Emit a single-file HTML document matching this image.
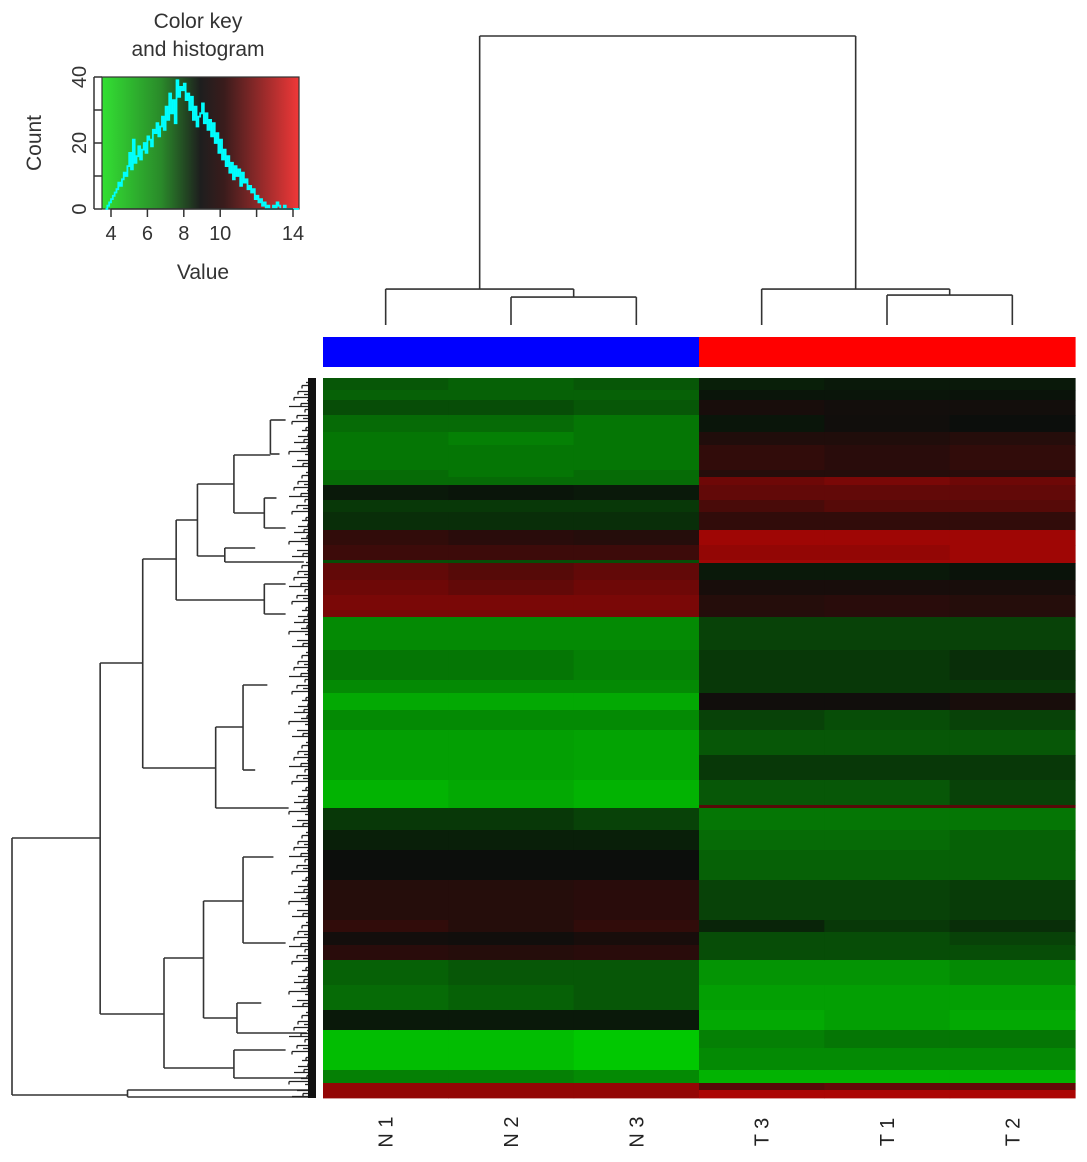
<!DOCTYPE html>
<html><head><meta charset="utf-8">
<style>
html,body{margin:0;padding:0;background:#fff;}
svg{display:block;font-family:"Liberation Sans",sans-serif;}
</style></head>
<body>
<svg id="fig" width="1087" height="1162" viewBox="0 0 1087 1162" xmlns="http://www.w3.org/2000/svg">
<defs>
<linearGradient id="keygrad" x1="0" x2="1" y1="0" y2="0">
<stop offset="0" stop-color="#33e033"/>
<stop offset="0.3" stop-color="#2a8a2a"/>
<stop offset="0.5" stop-color="#1e1e1e"/>
<stop offset="0.62" stop-color="#3a1c1c"/>
<stop offset="1" stop-color="#f03838"/>
</linearGradient>
</defs>
<g id="key"></g>
<g id="topdend"></g>
<g id="sidebar"></g>
<g id="heat"></g>
<g id="leftdend"></g>
<g id="collabels"></g>
</svg>
<script>
// ---- data ----
var sampleLabels = ["N 1","N 2","N 3","T 3","T 1","T 2"];
var sampleGroups = ["N","N","N","T","T","T"];
var blockStarts = [0,12,22,37,54,67,92,99,107,122,134,152,167,182,185,202,217,239,272,302,315,332,352,377,402,427,430,452,472,502,542,554,567,582,607,632,652,670,692,705,712];
var colN1 = [-0.35,-0.4,-0.3,-0.45,-0.5,-0.5,-0.45,-0.45,-0.05,-0.2,-0.15,0.15,0.2,-0.3,0.35,0.4,0.45,-0.6,-0.5,-0.6,-0.75,-0.6,-0.7,-0.7,-0.8,-0.8,-0.2,-0.08,0.0,0.1,0.15,0.03,0.12,-0.4,-0.45,-0.05,-0.85,-0.85,-0.55,0.55,0.55];
var colN2 = [-0.4,-0.4,-0.3,-0.45,-0.55,-0.5,-0.5,-0.45,-0.03,-0.2,-0.15,0.12,0.2,-0.3,0.3,0.35,0.45,-0.6,-0.5,-0.6,-0.75,-0.6,-0.7,-0.7,-0.75,-0.75,-0.2,-0.08,0.0,0.1,0.1,0.02,0.1,-0.35,-0.4,-0.05,-0.85,-0.85,-0.55,0.55,0.55];
var colN3 = [-0.35,-0.4,-0.35,-0.5,-0.5,-0.5,-0.45,-0.45,-0.05,-0.2,-0.15,0.1,0.2,-0.3,0.35,0.4,0.45,-0.6,-0.55,-0.6,-0.75,-0.6,-0.72,-0.72,-0.8,-0.8,-0.25,-0.08,0.0,0.12,0.15,0.05,0.12,-0.35,-0.35,-0.05,-0.9,-0.9,-0.6,0.55,0.55];
var colT3 = [-0.08,-0.03,0.05,-0.03,0.08,0.15,0.1,0.4,0.35,0.25,0.15,0.6,0.55,0.6,-0.05,0.05,0.1,-0.25,-0.2,-0.2,0.02,-0.25,-0.35,-0.2,-0.35,0.3,-0.5,-0.45,-0.4,-0.25,-0.1,-0.3,-0.3,-0.65,-0.7,-0.75,-0.55,-0.6,-0.8,0.3,0.65];
var colT1 = [-0.05,-0.03,0.03,0.02,0.08,0.12,0.1,0.45,0.35,0.3,0.15,0.6,0.55,0.6,-0.05,0.05,0.12,-0.25,-0.2,-0.2,0.02,-0.3,-0.35,-0.2,-0.35,0.3,-0.5,-0.45,-0.4,-0.25,-0.2,-0.3,-0.3,-0.65,-0.7,-0.7,-0.5,-0.6,-0.8,0.35,0.65];
var colT2 = [-0.05,-0.02,0.03,0.0,0.1,0.15,0.12,0.4,0.35,0.3,0.15,0.6,0.6,0.6,-0.02,0.05,0.1,-0.25,-0.15,-0.2,0.05,-0.25,-0.35,-0.2,-0.25,0.3,-0.5,-0.4,-0.4,-0.22,-0.15,-0.25,-0.3,-0.6,-0.7,-0.75,-0.5,-0.6,-0.8,0.35,0.65];
var rowTotal = 720;
var histStart = 3.7, histWidth = 0.1;
var histCounts = [0,1,2,3,4,5,6,8,7,9,11,10,13,17,12,21,14,16,19,15,18,20,17,22,21,19,24,23,26,22,25,28,24,31,27,35,29,33,26,39,34,37,36,38,33,35,30,34,27,31,25,28,29,32,26,29,24,27,22,26,20,23,17,21,15,18,13,16,11,14,9,13,10,12,7,11,8,9,6,7,5,6,3,4,2,3,1,2,0,1,0,0,1,0,2,1,0,0,1,0,0,0,0,0,0,0,0,0,0,0,0,0,0,0,0,0,0,0,0,0,0,0,0,0,0,0,0,0,0,0,3];
var xTicks = [4,6,8,10,12,14];
var xTickLabels = ["4","6","8","10","","14"];
var yTicks = [0,10,20,30,40];
var yTickLabels = ["0","","20","","40"];
// column dendrogram heights: root, left pair, left inner, right pair, right inner
var colMergeHeights = [0.86, 0.107, 0.083, 0.107, 0.089];
var rowLinks = [
 [1.0, 460, 717, 0.71, 0.62],
 [0.71, 285, 636, 0.57, 0.5],
 [0.57, 181, 390, 0.46, 0.33],
 [0.46, 142, 222, 0.39, 0.17],
 [0.39, 106, 178, 0.27, 0.3],
 [0.27, 77, 135, 0.15, 0.17],
 [0.15, 42, 76, 0.1, 0.12],
 [0.17, 120, 150, 0.13, 0.1],
 [0.3, 170, 184, 0.2, 0.04],
 [0.17, 206, 236, 0.1, 0.1],
 [0.33, 349, 430, 0.24, 0.09],
 [0.24, 307, 392, 0.16, 0.2],
 [0.5, 580, 690, 0.37, 0.27],
 [0.37, 523, 640, 0.24, 0.26],
 [0.24, 479, 565, 0.14, 0.1],
 [0.26, 625, 655, 0.18, 0.03],
 [0.27, 672, 700, 0.1, 0.03],
 [0.62, 712, 719, 0.02, 0.02]
];
// ---- helpers ----
var NS = "http://www.w3.org/2000/svg";
function mk(tag, parent, attrs){var e=document.createElementNS(NS,tag);for(var k in attrs)e.setAttribute(k,attrs[k]);parent.appendChild(e);return e;}
var HX0=323, HX1=1075, HY0=378, HY1=1098;
var colW=(HX1-HX0)/6;
function rowY(r){return HY0+r*(HY1-HY0)/rowTotal;}
function colX(i){return HX0+i*colW;}
function colorFor(v){
  var r,g,b;
  if(v<0){var a=-v;r=Math.round(10*(1-a));g=Math.round(15+205*a);b=Math.round(10*(1-a));}
  else{r=Math.round(12+245*v);g=Math.round(14*(1-v));b=Math.round(12*(1-v));}
  return "rgb("+Math.min(255,r)+","+Math.min(255,g)+","+Math.min(255,b)+")";
}
// ---- heatmap ----
var heat=document.getElementById("heat");
var cols=[colN1,colN2,colN3,colT3,colT1,colT2];
for(var c=0;c<6;c++){
  for(var b=0;b<blockStarts.length;b++){
    var r0=blockStarts[b], r1=(b+1<blockStarts.length)?blockStarts[b+1]:rowTotal;
    var rect=mk("rect",heat,{x:colX(c).toFixed(2),y:rowY(r0).toFixed(2),width:(colW+0.6).toFixed(2),height:(rowY(r1)-rowY(r0)+0.4).toFixed(2),fill:colorFor(cols[c][b])});
    
    
  }
}
// ---- group bar ----
var sb=document.getElementById("sidebar");
for(var c=0;c<6;c++){
  var sr=mk("rect",sb,{x:colX(c),y:337,width:colW+0.6,height:30,fill:sampleGroups[c]==="N"?"#0000ff":"#ff0000"});
  
  
}
// ---- column labels ----
var cl=document.getElementById("collabels");
for(var c=0;c<6;c++){
  var cx=colX(c)+colW/2;
  var t=mk("text",cl,{x:0,y:0,transform:"translate("+(cx+7)+",1132) rotate(-90)","text-anchor":"middle","font-size":"20",fill:"#222"});
  t.textContent=sampleLabels[c];
  
  
}
// ---- top dendrogram ----
var td=document.getElementById("topdend");
function topY(h){return 325-(h/0.86)*(325-36);}
function line(p,x1,y1,x2,y2){var l=mk("line",p,{x1:x1,y1:y1,x2:x2,y2:y2,stroke:"#333","stroke-width":"1.6"});return l;}
function center(i){return colX(i)+colW/2;}
var yRoot=topY(colMergeHeights[0]), yL=topY(colMergeHeights[1]), yLi=topY(colMergeHeights[2]), yR=topY(colMergeHeights[3]), yRi=topY(colMergeHeights[4]), yLeaf=topY(0);
var xLi=(center(1)+center(2))/2, xL=(center(0)+xLi)/2;
var xRi=(center(4)+center(5))/2, xR=(center(3)+xRi)/2;
line(td,xL,yRoot,xR,yRoot);line(td,xL,yRoot,xL,yL);line(td,xR,yRoot,xR,yR);
line(td,center(0),yL,xLi,yL);line(td,center(0),yL,center(0),yLeaf);line(td,xLi,yL,xLi,yLi);
line(td,center(1),yLi,center(2),yLi);line(td,center(1),yLi,center(1),yLeaf);line(td,center(2),yLi,center(2),yLeaf);
line(td,center(3),yR,xRi,yR);line(td,center(3),yR,center(3),yLeaf);line(td,xRi,yR,xRi,yRi);
line(td,center(4),yRi,center(5),yRi);line(td,center(4),yRi,center(4),yLeaf);line(td,center(5),yRi,center(5),yLeaf);
// ---- left dendrogram ----
var ld=document.getElementById("leftdend");
var LX0=12, LX1=316;
function hX(h){return LX1-h*(LX1-LX0);}
rowLinks.forEach(function(k){
  var xp=hX(k[0]), ya=rowY(k[1]), yb=rowY(k[2]);
  line(ld,xp,ya,xp,yb);
  line(ld,xp,ya,hX(k[3]),ya);
  line(ld,xp,yb,hX(k[4]),yb);
});
for(var i=0;i<240;i++){
  var yy=rowY(i*3+1.5);
  var depth=[6,10,14,8,18,12,22,9,15,27,11,7,19,13,24][i%15];
  var l=mk("line",ld,{x1:LX1-depth,y1:yy,x2:LX1,y2:yy,stroke:"#222","stroke-width":"1.3"});
  
  
  if(i%2===0){var v=mk("line",ld,{x1:LX1-depth,y1:yy,x2:LX1-depth,y2:rowY(i*3+4.5),stroke:"#222","stroke-width":"1.3"});
  
  }
}
var fr=mk("rect",ld,{x:LX1-8,y:HY0,width:8,height:HY1-HY0,fill:"#111"});


// ---- color key ----
var key=document.getElementById("key");
var KX0=102,KX1=299,KY0=77,KY1=209;
function kx(v){return 111+(v-4)*(293-111)/10;}
function ky(c){return 209-c*(209-77)/40;}
var bg=mk("rect",key,{x:KX0,y:KY0,width:KX1-KX0,height:KY1-KY0,fill:"url(#keygrad)",stroke:"#333","stroke-width":"1.2"});


var d="";
for(var i=0;i<histCounts.length;i++){
  var x0=kx(histStart+i*histWidth), x1=kx(histStart+(i+1)*histWidth);
  if(x0>=KX1)break; if(x1>KX1)x1=KX1;
  var y=ky(histCounts[i]);
  d+=(i===0?"M"+x0+","+y:"L"+x0+","+y)+" L"+x1+","+y+" ";
}
var hp=mk("path",key,{d:d,fill:"none",stroke:"#00ffff","stroke-width":"1.8"});


xTicks.forEach(function(v,i){
  var x=kx(v);
  var tl=mk("line",key,{x1:x,y1:KY1,x2:x,y2:KY1+8,stroke:"#333","stroke-width":"1.5"});
  
  if(xTickLabels[i]){var t=mk("text",key,{x:x,y:KY1+31,"text-anchor":"middle","font-size":"20",fill:"#333"});t.textContent=xTickLabels[i];
  }
});
yTicks.forEach(function(v,i){
  var y=ky(v);
  var tl=mk("line",key,{x1:KX0-8,y1:y,x2:KX0,y2:y,stroke:"#333","stroke-width":"1.5"});
  
  if(yTickLabels[i]){var t=mk("text",key,{x:0,y:0,transform:"translate("+(KX0-16)+","+y+") rotate(-90)","text-anchor":"middle","font-size":"20",fill:"#333"});t.textContent=yTickLabels[i];
  }
});
var ax=mk("line",key,{x1:kx(4),y1:KY1,x2:kx(14),y2:KY1,stroke:"#333","stroke-width":"1.5"});

var ay=mk("line",key,{x1:KX0-8,y1:ky(0),x2:KX0-8,y2:ky(40),stroke:"#333","stroke-width":"1.5"});

var t1=mk("text",key,{x:198,y:28,"text-anchor":"middle","font-size":"21",fill:"#333"});t1.textContent="Color key";

var t2=mk("text",key,{x:198,y:56,"text-anchor":"middle","font-size":"21",fill:"#333"});t2.textContent="and histogram";

var xt=mk("text",key,{x:203,y:279,"text-anchor":"middle","font-size":"21",fill:"#333"});xt.textContent="Value";

var yt=mk("text",key,{x:0,y:0,transform:"translate(41,143) rotate(-90)","text-anchor":"middle","font-size":"21",fill:"#333"});yt.textContent="Count";

</script>
</body></html>
